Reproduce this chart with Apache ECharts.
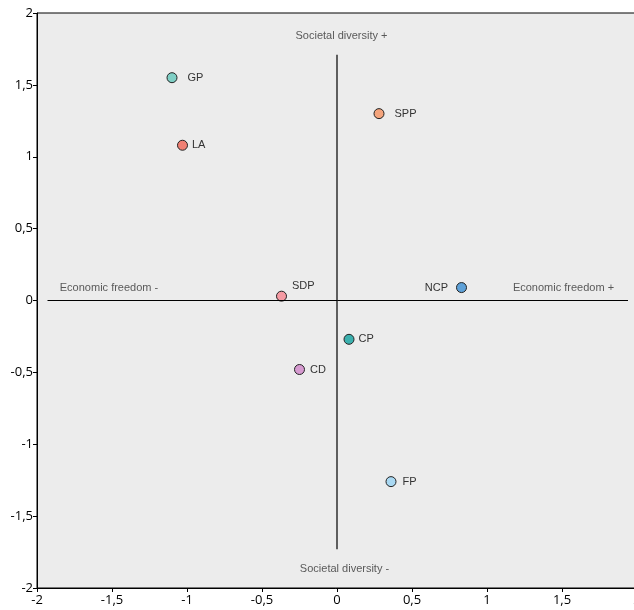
<!DOCTYPE html>
<html><head><meta charset="utf-8">
<script src="https://cdn.jsdelivr.net/npm/echarts@6/dist/echarts.min.js"></script>
<style>html,body{margin:0;padding:0;background:#fff}#c{width:634px;height:610px}</style>
</head><body><div id="c"></div>
<script>
const parties = ['GP','LA','SPP','SDP','NCP','CP','CD','FP'];
const econ    = [-1.10,-1.03, 0.28,-0.37, 0.83, 0.08,-0.25, 0.36];
const society = [ 1.55, 1.08, 1.30, 0.03, 0.09,-0.27,-0.48,-1.26];
const colors  = ['#7fcfc5','#ef7f73','#f4a47c','#f59aa3','#5ea1d8','#3bb0ae','#d69ad0','#a9d8f2'];
const labelPos = ['right','right','right',[16,-5],'left','right','right','right'];
const labelDist = [10,4,10,0,8,4,5,6];
const hLine = [[-1.93,0],[1.94,0]];
const vLine = [[0,1.71],[0,-1.73]];
const annotations = [
  {text:'Societal diversity +', x:0.03, y:1.84},
  {text:'Societal diversity -', x:0.05, y:-1.87},
  {text:'Economic freedom -', x:-1.52, y:0.09},
  {text:'Economic freedom +', x:1.51, y:0.09}
];
const fmt = v => String(v).replace('.', ',');
const chart = echarts.init(document.getElementById('c'));
chart.setOption({
  animation:false,
  grid:{left:37,right:-3,top:13,bottom:22,outerBoundsMode:'none',containLabel:false,show:true,backgroundColor:'#ececec',borderColor:'#000',borderWidth:1},
  xAxis:{type:'value',min:-2,max:2,interval:0.5,splitLine:{show:false},
    axisLine:{onZero:false,lineStyle:{color:'#000',width:1}},axisTick:{inside:false,length:4,lineStyle:{color:'#000'}},
    axisLabel:{formatter:fmt,color:'#000',fontSize:13,fontFamily:'Open Sans',margin:6}},
  yAxis:{type:'value',min:-2,max:2,interval:0.5,splitLine:{show:false},
    axisLine:{onZero:false,lineStyle:{color:'#000',width:1}},axisTick:{length:4,lineStyle:{color:'#000'}},
    axisLabel:{formatter:fmt,color:'#000',fontSize:13,fontFamily:'Open Sans',margin:4}},
  series:[
    {type:'line',data:hLine,symbol:'none',lineStyle:{color:'#000',width:1},silent:true},
    {type:'line',data:vLine,symbol:'none',lineStyle:{color:'#000',width:1.2},silent:true},
    {type:'scatter',data:annotations.map(a=>({value:[a.x,a.y],label:{formatter:a.text}})),
      symbolSize:0,label:{show:true,position:'inside',color:'#333',fontSize:11,fontFamily:'Liberation Sans'}},
    {type:'scatter',symbolSize:10,
      data:parties.map((p,i)=>({value:[econ[i],society[i]],name:p,
        itemStyle:{color:colors[i]},
        label:Array.isArray(labelPos[i])
          ? {position:labelPos[i],align:'left',verticalAlign:'middle'}
          : {position:labelPos[i],distance:labelDist[i]}})),
      itemStyle:{borderColor:'#222',borderWidth:1,opacity:1},
      label:{show:true,formatter:'{b}',color:'#333',fontSize:11,fontFamily:'Liberation Sans'}}
  ]
});
</script></body></html>
